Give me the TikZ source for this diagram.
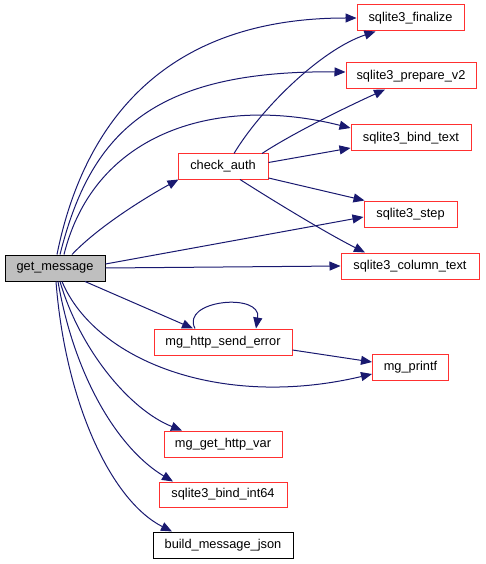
\documentclass[tikz,border=0pt]{standalone}
\usepackage{fontspec}
\setmainfont{Liberation Sans}
\usetikzlibrary{arrows.meta}
\definecolor{edgec}{HTML}{191970}
\definecolor{boxred}{HTML}{FF3030}
\definecolor{boxgrey}{HTML}{BFBFBF}
\tikzset{
  fn/.style={draw=boxred, line width=1pt, fill=white, inner sep=0pt, minimum height=26pt, font=\fontsize{12.8}{15}\selectfont},
  fnblack/.style={fn, draw=black},
  fnroot/.style={fn, draw=black, fill=boxgrey},
  e/.style={draw=edgec, line width=1pt, -{Triangle[length=11pt,width=9pt]}},
}
\begin{document}
\begin{tikzpicture}[x=1pt,y=-1pt]
\useasboundingbox (0,0) rectangle (485,564);
\fill[white] (0,0) rectangle (485,564);
% nodes
\node[fnroot, minimum width=100pt] (gm) at (55,268) {get\_message};
\node[fn, minimum width=90pt, minimum height=25pt] (ca) at (223,166.5) {check\_auth};
\node[fn, minimum width=107pt] (fin) at (410.5,18) {sqlite3\_finalize};
\node[fn, minimum width=130pt] (prep) at (411,76) {sqlite3\_prepare\_v2};
\node[fn, minimum width=120pt] (bt) at (411,138) {sqlite3\_bind\_text};
\node[fn, minimum width=93pt] (st) at (410.5,214) {sqlite3\_step};
\node[fn, minimum width=138pt] (col) at (410,266) {sqlite3\_column\_text};
\node[fn, minimum width=138pt] (se) at (223,342) {mg\_http\_send\_error};
\node[fn, minimum width=76pt] (pf) at (410.5,367) {mg\_printf};
\node[fn, minimum width=118pt] (ghv) at (223,444) {mg\_get\_http\_var};
\node[fn, minimum width=128pt, minimum height=25pt] (bi) at (223,494.5) {sqlite3\_bind\_int64};
\node[fnblack, minimum width=140pt] (bmj) at (223,545) {build\_message\_json};
% edges from get_message
\draw[e] ([xshift=2pt]gm.north) .. controls (80,140) and (150,18) .. (fin.west);
\draw[e] ([xshift=5pt]gm.north) .. controls (90,135) and (150,70) .. ([yshift=4pt]prep.west);
\draw[e] ([xshift=9pt]gm.north) .. controls (95,130) and (220,95) .. ([yshift=10pt]bt.west);
\draw[e] ([xshift=17pt]gm.north) .. controls (100,225) and (150,195) .. ([xshift=1pt]ca.south west);
\draw[e] ([yshift=4pt]gm.east) -- ([yshift=-3pt]st.west);
\draw[e] (gm.east) -- (col.west);
\draw[e] ([xshift=30pt]gm.south) -- ([xshift=-30pt]se.north);
\draw[e] ([xshift=7pt]gm.south) .. controls (95,360) and (220,410) .. ([yshift=-7pt]pf.west);
\draw[e] ([xshift=5pt]gm.south) .. controls (80,350) and (130,410) .. ([xshift=-41pt]ghv.north);
\draw[e] ([xshift=3pt]gm.south) .. controls (75,380) and (120,450) .. ([xshift=-50pt]bi.north);
\draw[e] ([xshift=1pt]gm.south) .. controls (65,400) and (110,500) .. ([xshift=-51pt]bmj.north);
% edges from check_auth
\draw[e] ([xshift=11pt]ca.north) .. controls (260,110) and (320,50) .. ([xshift=-35pt]fin.south);
\draw[e] ([xshift=39pt]ca.north) .. controls (290,135) and (340,110) .. ([xshift=-26pt]prep.south);
\draw[e] ([yshift=4pt]ca.east) -- ([yshift=-10pt]bt.west);
\draw[e] ([yshift=-11.5pt]ca.east) -- ([xshift=1pt]st.north west);
\draw[e] ([xshift=17pt]ca.south) .. controls (280,205) and (330,235) .. ([xshift=-45pt]col.north);
% mg_http_send_error
\draw[e] ([xshift=-28pt]se.north) .. controls (180,300) and (262,292) .. ([xshift=33pt]se.north);
\draw[e] ([yshift=-8pt]se.east) -- ([yshift=5pt]pf.west);
\end{tikzpicture}
\end{document}
